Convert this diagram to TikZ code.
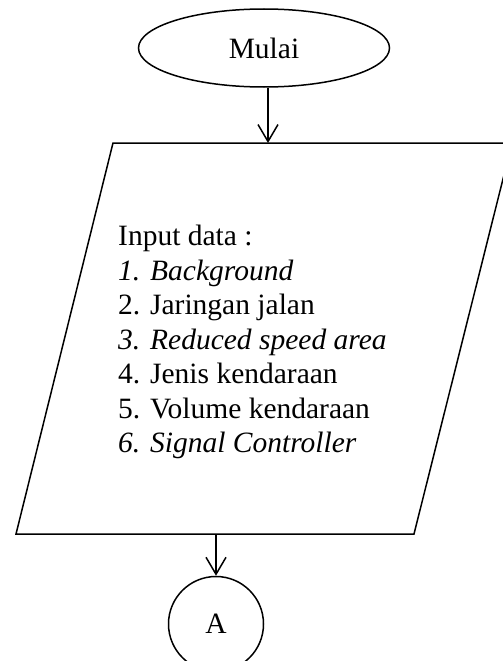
\documentclass[tikz,border=0pt]{standalone}
\usepackage{fontspec}
\setmainfont{Liberation Serif}
\usetikzlibrary{arrows.meta,shapes.geometric}
\tikzset{
  shapeline/.style={draw=black, line width=1.5pt},
  arr/.style={line width=1.5pt, -{Straight Barb[length=17pt,width=20pt,line width=1.5pt]}},
  txt/.style={font=\fontsize{29.5}{34.5}\selectfont}
}
\begin{document}
\begin{tikzpicture}[x=1pt,y=-1pt]
\clip (0,0) rectangle (503,661);
\fill[white] (0,0) rectangle (503,661);
% start terminal
\node[shapeline, ellipse, minimum width=251pt, minimum height=78pt, inner sep=0pt, txt] (mulai) at (264,48) {Mulai};
% input parallelogram
\coordinate (pBL) at (16,534);
\coordinate (pBR) at (414,534);
\coordinate (pTR) at (512,143);
\coordinate (pTL) at (113,143);
\draw[shapeline, line join=miter] (pBL) -- (pBR) -- (pTR) -- (pTL) -- cycle;
\coordinate (pTop) at (268,143);
\coordinate (pBot) at (216,534);
\node[txt, anchor=north west, inner sep=0pt, align=left] (inp) at (118,225) {Input data :\\
\textit{1. Background}\\
2. Jaringan jalan\\
\textit{3. Reduced speed area}\\
4. Jenis kendaraan\\
5. Volume kendaraan\\
\textit{6. Signal Controller}};
% connector
\node[shapeline, circle, minimum size=95pt, inner sep=0pt, txt] (conA) at (216,624) {A};
% arrows
\draw[arr] (pTop |- mulai.south) -- (pTop);
\draw[arr] (pBot) -- (conA.north);
\end{tikzpicture}
\end{document}
